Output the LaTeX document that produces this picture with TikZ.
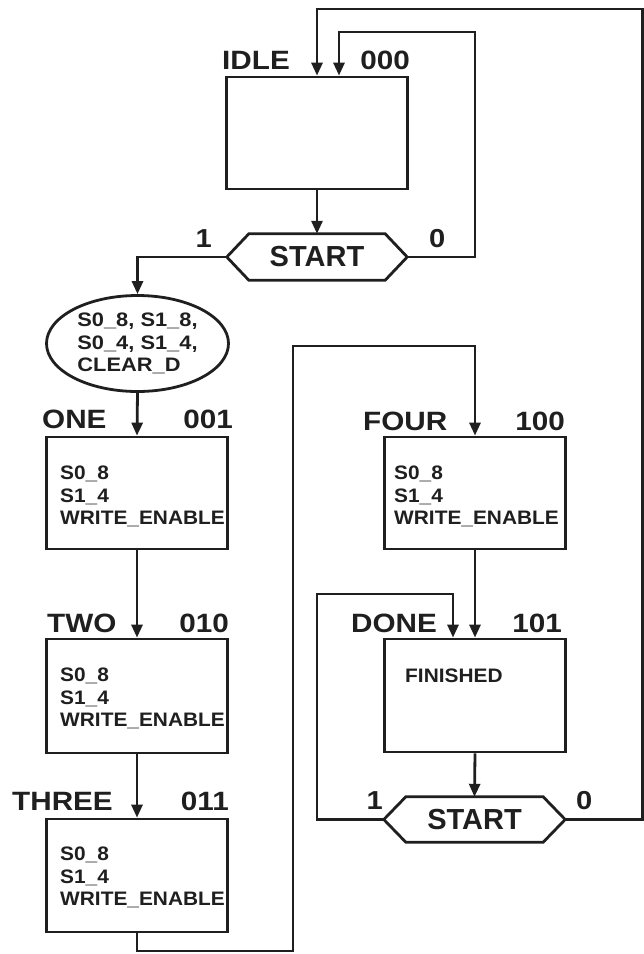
\documentclass[tikz,border=0pt]{standalone}
\usepackage{fontspec}
\setmainfont{Liberation Sans}
\newfontfamily\labfont[FakeStretch=1.12]{Liberation Sans Bold}
\newfontfamily\txtfont[FakeStretch=1.07]{Liberation Sans Bold}
\newfontfamily\ellfont[FakeStretch=1.12]{Liberation Sans Bold}
\newfontfamily\hexfont{Liberation Sans Bold}
\usetikzlibrary{arrows.meta,shapes.geometric}
\begin{document}
\begin{tikzpicture}[x=1pt,y=-1pt,
  line/.style={line width=2.8pt, draw=black!88},
  arr/.style={line, -{Triangle[length=13pt,width=11pt]}},
  statebox/.style={line, rectangle, minimum width=181pt, inner sep=0pt},
  hexbox/.style={rectangle, minimum width=180pt, minimum height=46pt, inner sep=0pt, font=\hexfont\fontsize{29}{30}\selectfont},
  slabel/.style={inner sep=0pt, text=black!88, font=\labfont\fontsize{26.5}{28}\selectfont},
  btext/.style={inner sep=0pt, text=black!88, align=left, font=\txtfont\fontsize{19.5}{22.5}\selectfont},
  ctext/.style={inner sep=0pt, text=black!88, font=\labfont\fontsize{26}{28}\selectfont}
]
\useasboundingbox (0,0) rectangle (644,954);

% state boxes
\node[statebox, minimum height=112pt] (idle) at (317,133) {};
\node[statebox, minimum height=112pt] (one) at (137,493) {};
\node[statebox, minimum height=114pt] (two) at (137,696) {};
\node[statebox, minimum height=113pt] (three) at (137,875.5) {};
\node[statebox, minimum height=112pt] (four) at (475,493) {};
\node[statebox, minimum height=113pt] (done) at (475,695.5) {};

% state labels
\node[slabel, anchor=base west] (lidle) at (222,69) {IDLE};
\node[slabel, anchor=base east] (cidle) at (410,69) {000};
\node[slabel, anchor=base west] (lone) at (42,428) {ONE};
\node[slabel, anchor=base east] (cone) at (233,428) {001};
\node[slabel, anchor=base west] (ltwo) at (47,632) {TWO};
\node[slabel, anchor=base east] (ctwo) at (229,632) {010};
\node[slabel, anchor=base west] (lthree) at (12,810) {THREE};
\node[slabel, anchor=base east] (cthree) at (229,810) {011};
\node[slabel, anchor=base west] (lfour) at (363,430) {FOUR};
\node[slabel, anchor=base east] (cfour) at (565,430) {100};
\node[slabel, anchor=base west] (ldone) at (351,632) {DONE};
\node[slabel, anchor=base east] (cdone) at (562,632) {101};

% box contents
\node[btext, anchor=north west] (tone) at (60,466) {S0\_8\\S1\_4\\WRITE\_ENABLE};
\node[btext, anchor=north west] (ttwo) at (60,668) {S0\_8\\S1\_4\\WRITE\_ENABLE};
\node[btext, anchor=north west] (tthree) at (60,847) {S0\_8\\S1\_4\\WRITE\_ENABLE};
\node[btext, anchor=north west] (tfour) at (394,466) {S0\_8\\S1\_4\\WRITE\_ENABLE};
\node[btext, anchor=base west] (tdone) at (405,682) {FINISHED};

% ellipse
\node[line, ellipse, minimum width=182pt, minimum height=96pt, inner sep=0pt, align=left,
      text=black!88, font=\ellfont\fontsize{19.5}{22.5}\selectfont] (ell) at (137.5,343.5)
      {S0\_8, S1\_8,\\S0\_4, S1\_4,\\CLEAR\_D};

% decision hexagons
\node[hexbox, text=black!88] (s1) at (317,257) {START};
\draw[line, line join=miter] (s1.west) -- ([xshift=22pt]s1.north west) -- ([xshift=-22pt]s1.north east)
  -- (s1.east) -- ([xshift=-22pt]s1.south east) -- ([xshift=22pt]s1.south west) -- cycle;
\node[hexbox, text=black!88, minimum width=181pt, minimum height=45pt] (s2) at (474.5,819.5) {START};
\draw[line, line join=miter] (s2.west) -- ([xshift=22pt]s2.north west) -- ([xshift=-22pt]s2.north east)
  -- (s2.east) -- ([xshift=-22pt]s2.south east) -- ([xshift=22pt]s2.south west) -- cycle;

% condition labels
\node[ctext, anchor=base east] (s1one) at (212,247) {1};
\node[ctext, anchor=base west] (s1zero) at (429,247) {0};
\node[ctext, anchor=base east] (s2one) at (383,809) {1};
\node[ctext, anchor=base west] (s2zero) at (576,809) {0};

% routing coordinates
\coordinate (r1) at (475,32);
\coordinate (r2) at (642.5,9);
\coordinate (b1) at (293,951);
\coordinate (b2) at (293,346);
\coordinate (l1) at (317,594);

% connectors
\draw[arr] (idle.south) -- (s1.north);
\draw[arr] (s1.west) -| (ell.north);
\draw[arr] (s1.east) -| (r1) -| ([xshift=22pt]idle.north);
\draw[arr] (s2.east) -| (r2) -| (idle.north);
\draw[arr] (ell.south) -- (one.north);
\draw[arr] (one.south) -- (two.north);
\draw[arr] (two.south) -- (three.north);
\draw[arr] (three.south) |- (b1) -- (b2) -| (four.north);
\draw[arr] (four.south) -- (done.north);
\draw[arr] (done.south) -- (s2.north);
\draw[arr] (s2.west) -| (l1) -| ([xshift=-22pt]done.north);
\end{tikzpicture}
\end{document}
